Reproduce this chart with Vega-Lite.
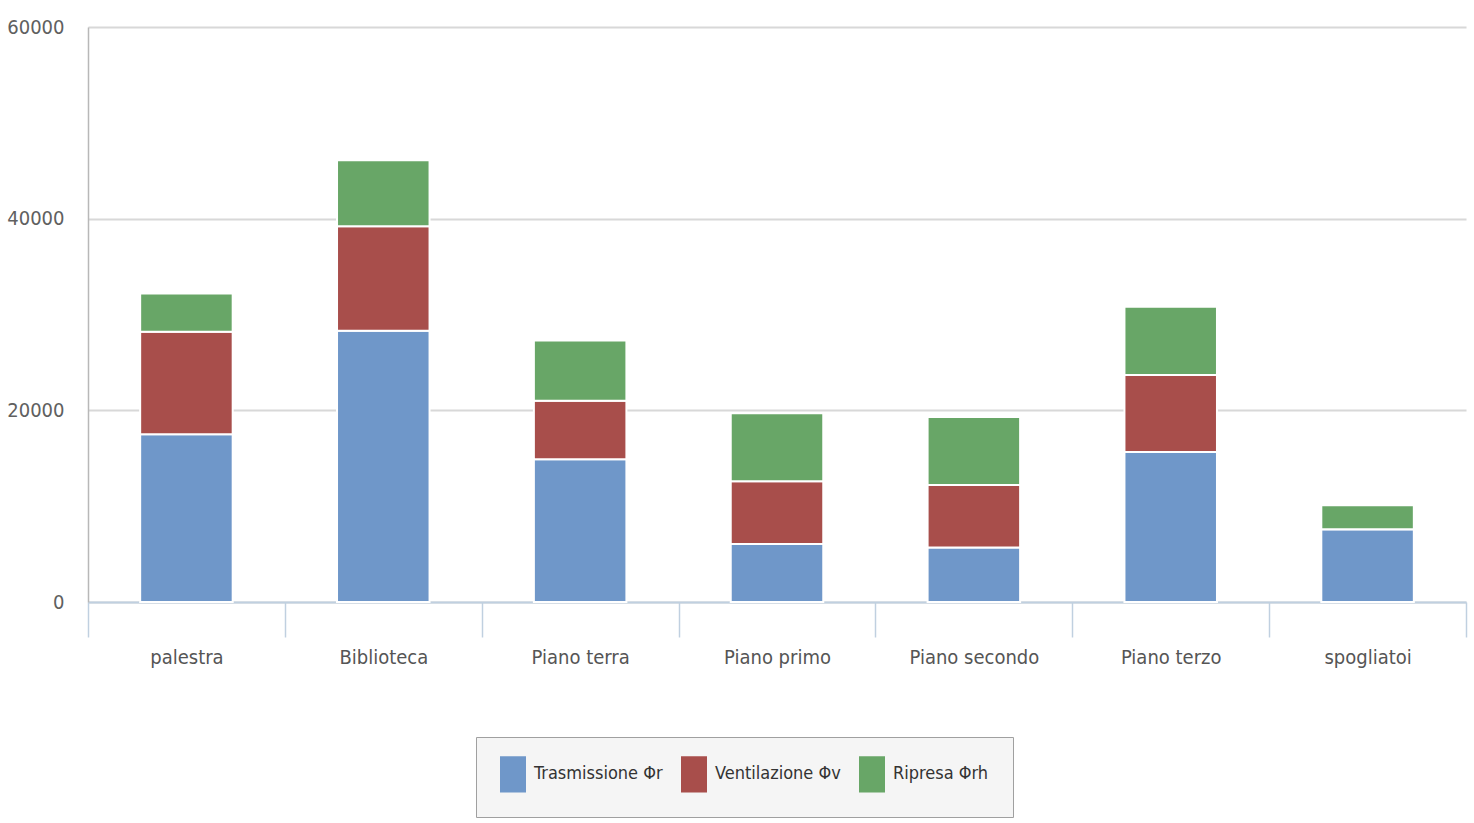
{
  "$schema": "https://vega.github.io/schema/vega-lite/v6.json",
  "autosize": "none",
  "width": 1378,
  "height": 575,
  "padding": {"left": 88, "top": 27, "right": 8, "bottom": 221},
  "background": "white",
  "config": {
    "font": "'DejaVu Sans Condensed', 'Liberation Sans Narrow', 'Liberation Sans', sans-serif",
    "view": {"stroke": null}
  },
  "data": {
    "values": [
      {"zona": "palestra", "serie": "Trasmissione Φr", "ordine": 1, "valore": 17500},
      {"zona": "palestra", "serie": "Ventilazione Φv", "ordine": 2, "valore": 10700},
      {"zona": "palestra", "serie": "Ripresa Φrh", "ordine": 3, "valore": 4000},
      {"zona": "Biblioteca", "serie": "Trasmissione Φr", "ordine": 1, "valore": 28300},
      {"zona": "Biblioteca", "serie": "Ventilazione Φv", "ordine": 2, "valore": 10900},
      {"zona": "Biblioteca", "serie": "Ripresa Φrh", "ordine": 3, "valore": 6900},
      {"zona": "Piano terra", "serie": "Trasmissione Φr", "ordine": 1, "valore": 14900},
      {"zona": "Piano terra", "serie": "Ventilazione Φv", "ordine": 2, "valore": 6100},
      {"zona": "Piano terra", "serie": "Ripresa Φrh", "ordine": 3, "valore": 6300},
      {"zona": "Piano primo", "serie": "Trasmissione Φr", "ordine": 1, "valore": 6050},
      {"zona": "Piano primo", "serie": "Ventilazione Φv", "ordine": 2, "valore": 6550},
      {"zona": "Piano primo", "serie": "Ripresa Φrh", "ordine": 3, "valore": 7100},
      {"zona": "Piano secondo", "serie": "Trasmissione Φr", "ordine": 1, "valore": 5700},
      {"zona": "Piano secondo", "serie": "Ventilazione Φv", "ordine": 2, "valore": 6500},
      {"zona": "Piano secondo", "serie": "Ripresa Φrh", "ordine": 3, "valore": 7100},
      {"zona": "Piano terzo", "serie": "Trasmissione Φr", "ordine": 1, "valore": 15650},
      {"zona": "Piano terzo", "serie": "Ventilazione Φv", "ordine": 2, "valore": 8050},
      {"zona": "Piano terzo", "serie": "Ripresa Φrh", "ordine": 3, "valore": 7100},
      {"zona": "spogliatoi", "serie": "Trasmissione Φr", "ordine": 1, "valore": 7600},
      {"zona": "spogliatoi", "serie": "Ventilazione Φv", "ordine": 2, "valore": 0},
      {"zona": "spogliatoi", "serie": "Ripresa Φrh", "ordine": 3, "valore": 2500}
    ]
  },
  "mark": {"type": "bar", "stroke": "white", "strokeWidth": 2, "width": {"band": 0.47}},
  "encoding": {
    "x": {
      "field": "zona",
      "type": "nominal",
      "sort": ["palestra", "Biblioteca", "Piano terra", "Piano primo", "Piano secondo", "Piano terzo", "spogliatoi"],
      "scale": {"paddingInner": 0, "paddingOuter": 0},
      "axis": {
        "title": null,
        "labelAngle": 0,
        "labelFontSize": 20,
        "labelColor": "#555555",
        "labelPadding": 10,
        "tickBand": "extent",
        "tickSize": 35,
        "tickColor": "#c0d0e0",
        "tickWidth": 1.5,
        "domainColor": "#c0d0e0",
        "domainWidth": 2,
        "grid": false
      }
    },
    "y": {
      "field": "valore",
      "type": "quantitative",
      "stack": "zero",
      "scale": {"domain": [0, 60000], "nice": false},
      "axis": {
        "title": null,
        "values": [0, 20000, 40000, 60000],
        "format": "d",
        "labelFontSize": 20,
        "labelColor": "#606060",
        "labelPadding": 24,
        "ticks": false,
        "domain": true,
        "domainColor": "#b8b8b8",
        "domainWidth": 1.5,
        "gridColor": "#d8d8d8",
        "gridWidth": 2
      }
    },
    "color": {
      "field": "serie",
      "type": "nominal",
      "sort": ["Trasmissione Φr", "Ventilazione Φv", "Ripresa Φrh"],
      "scale": {
        "domain": ["Trasmissione Φr", "Ventilazione Φv", "Ripresa Φrh"],
        "range": ["#6f97c9", "#a84e4b", "#68a667"]
      },
      "legend": {
        "title": null,
        "orient": "none",
        "direction": "horizontal",
        "legendX": 388,
        "legendY": 710,
        "fillColor": "#f5f5f5",
        "strokeColor": "#a0a0a0",
        "padding": 24,
        "labelFontSize": 18,
        "labelColor": "#333333",
        "labelOffset": 8,
        "columnPadding": 18,
        "symbolType": "M-1,-1.4L1,-1.4L1,1.4L-1,1.4Z",
        "symbolSize": 676,
        "symbolStrokeWidth": 0,
        "symbolOpacity": 1
      }
    },
    "order": {"field": "ordine", "sort": "ascending"}
  }
}
